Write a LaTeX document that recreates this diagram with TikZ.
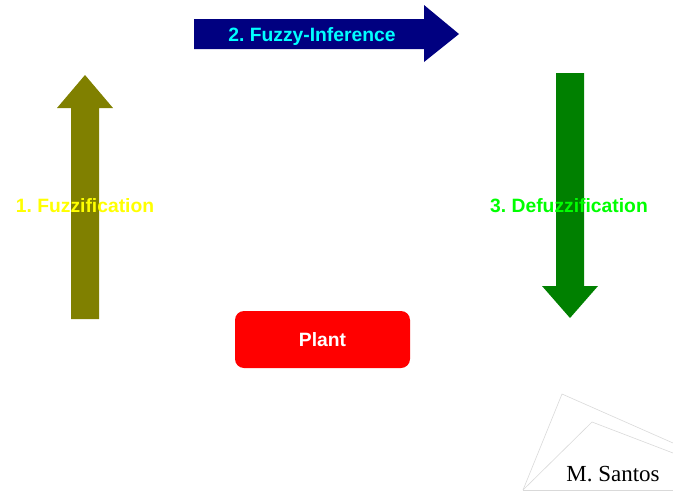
\documentclass[tikz,border=0pt]{standalone}
\usepackage{fontspec}
\setmainfont{Liberation Serif}
\setsansfont{Liberation Sans}
\usepackage{tikz}
\usetikzlibrary{positioning}
\frenchspacing

\definecolor{olivearrow}{RGB}{128,128,0}
\definecolor{navyarrow}{RGB}{0,0,128}
\definecolor{greenarrow}{RGB}{0,128,0}
\definecolor{yellowtext}{RGB}{255,255,0}
\definecolor{cyantext}{RGB}{0,255,255}
\definecolor{limetext}{RGB}{0,255,0}
\definecolor{plantred}{RGB}{255,0,0}

\begin{document}
\begin{tikzpicture}[
  x=1pt,y=-1pt,
  font=\sffamily\bfseries\fontsize{19.3}{22}\selectfont,
  label/.style={inner sep=0pt,anchor=center},
  block/.style={rounded corners=9pt,fill=plantred,text=white,minimum width=175pt,minimum height=57pt,inner sep=0pt},
  deco/.style={draw=gray!30,line width=0.6pt},
]
\useasboundingbox (0,0) rectangle (673,493);

% ---------- step 1: fuzzification (left) ----------
\fill[olivearrow] (71,319) -- (71,108) -- (57,108) -- (85,75) -- (113,108) -- (99,108) -- (99,319) -- cycle;
\node[label,text=yellowtext] (fuzz) at (85,206) {1. Fuzzification};

% ---------- step 2: inference (top) ----------
\fill[navyarrow] (194,19) -- (424,19) -- (424,5) -- (459,34) -- (424,62) -- (424,49) -- (194,49) -- cycle;
\node[label,text=cyantext] (infer) at (312,36.5) {2. Fuzzy-Inference};

% ---------- step 3: defuzzification (right) ----------
\fill[greenarrow] (556,73) -- (584,73) -- (584,286) -- (598,286) -- (570,318) -- (542,286) -- (556,286) -- cycle;
\node[label,text=limetext] (defuzz) at (569,206) {3. Defuzzification};

% ---------- plant ----------
\node[block] (plant) at (322.5,339.5) {\raisebox{-1.5pt}{Plant}};

% ---------- corner mark ----------
\coordinate (m0) at (523,490);
\draw[deco] (m0) -- (562,394) -- (673,443);
\draw[deco] (m0) -- (592,422) -- (673,453);
\draw[deco] (m0) -- (673,490);
\node[label,font=\rmfamily\fontsize{23}{26}\selectfont] (author) at (613,474) {M. Santos};

\end{tikzpicture}
\end{document}
